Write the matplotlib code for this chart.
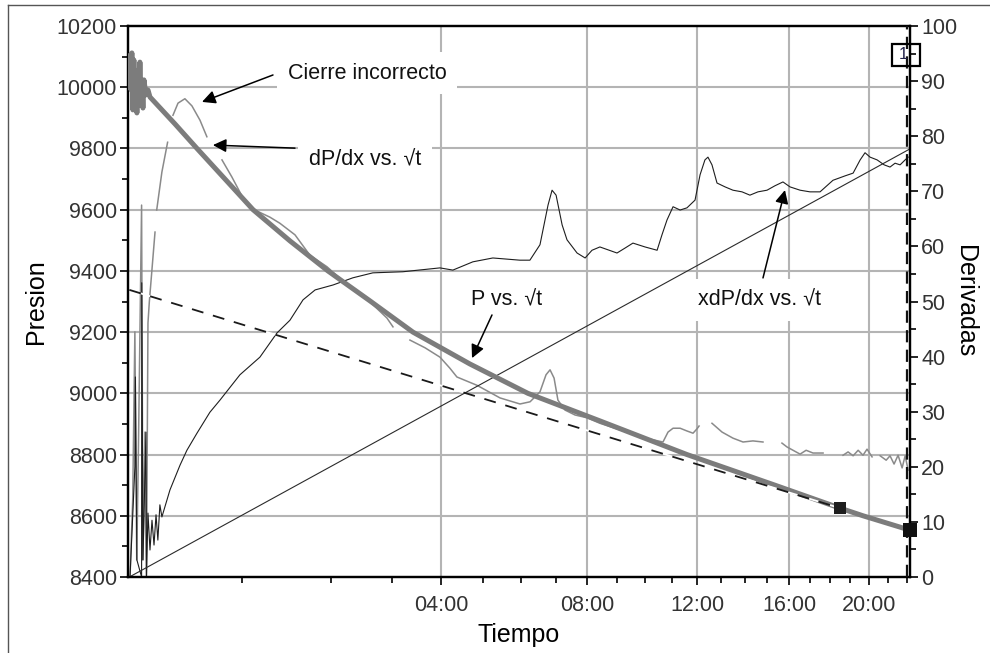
import numpy as np
import matplotlib
matplotlib.use("Agg")
import matplotlib.pyplot as plt
from matplotlib.lines import Line2D
from matplotlib.patches import Rectangle
from matplotlib.ticker import FixedLocator, MultipleLocator

plt.rcParams['font.family'] = ['Liberation Sans', 'DejaVu Sans']

nan = np.nan

# ---- time axis: x = sqrt(clock_hour - t0) ----
t0_hour = 0.55
major_hours = [4, 8, 12, 16, 20]
major_labels = ['04:00', '08:00', '12:00', '16:00', '20:00']
minor_hours = [1, 2, 3, 5, 6, 7, 9, 10, 11, 13, 14, 15, 17, 18, 19, 21, 22]
x_max = 4.652

# ---- Pressure vs sqrt(t) (thick gray) ----
p_x = [0.004, 0.010, 0.015, 0.021, 0.027, 0.033, 0.039, 0.045, 0.051, 0.057,
       0.063, 0.069, 0.075, 0.081, 0.087, 0.099, 0.111, 0.123,
       0.272, 0.403, 0.570, 0.737, 0.957, 1.183, 1.434, 1.690, 2.029, 2.375,
       2.804, 3.323, 3.847, 4.235, 4.372, 4.652]
p_val = [10105, 9991, 10112, 9926, 10089, 9958, 10040, 9916, 10056, 9942,
         10082, 9958, 10007, 9932, 10024, 9975, 9991, 9968,
         9880, 9800, 9700, 9600, 9498, 9400, 9302, 9200, 9096, 9000,
         8910, 8800, 8700, 8625, 8600, 8553]

# ---- straight-line fit P vs sqrt(t) (dashed) ----
fit_x = [0.0, 4.235]
fit_p = [9338, 8625]

# ---- square markers ----
mark1_x, mark1_p = 4.235, 8625
mark2_x, mark2_p = 4.652, 8553
vline_x = 4.632

# ---- dP/dx vs sqrt(t) (thin gray, right axis) ----
d_x = [0.004, 0.020, 0.033, 0.044, 0.054, 0.073, 0.081, 0.093, 0.102, 0.111, 0.119, 0.153, nan,
       0.163, 0.194, 0.228, nan,
       0.260, 0.290, 0.331, 0.373, 0.421, 0.462, nan,
       0.552, 0.611, 0.677, 0.748, 0.838, 0.897, 0.987, 1.076, 1.178, 1.284, 1.404, 1.535, 1.571, nan,
       1.672, 1.762, 1.851, 1.910, 1.952, 2.071, 2.209, 2.328, 2.388, 2.447, 2.483, 2.507, 2.531,
       2.554, 2.596, 2.656, 2.727, 2.804, 2.894, 2.966, 3.043, 3.121, 3.180, 3.210, 3.240, 3.282,
       3.323, 3.359, 3.383, 3.395, nan,
       3.472, 3.532, 3.597, 3.657, 3.716, 3.776, nan,
       3.889, 3.919, 3.955, 3.997, 4.033, 4.074, 4.134, nan,
       4.253, 4.283, 4.313, 4.343, 4.372, 4.396, 4.426, nan,
       4.474, 4.510, 4.533, 4.557, 4.581, 4.605, 4.623, 4.641]
d_val = [0.0, 14.0, 44.5, 3.1, 23.0, 67.5, 3.1, 26.3, 0.0, 46.1, 49.9, 62.6, nan,
         66.6, 73.5, 78.9, nan,
         83.8, 86.0, 86.8, 85.5, 82.9, 79.9, nan,
         75.7, 72.6, 68.8, 66.6, 65.3, 64.2, 62.1, 58.4, 56.3, 53.4, 50.8, 47.0, 45.4, nan,
         43.0, 41.6, 39.9, 37.9, 36.3, 34.8, 32.5, 31.4, 31.8, 33.6, 36.7, 37.6, 36.1,
         32.1, 30.3, 29.4, 28.9, 27.9, 27.0, 26.3, 25.4, 24.9, 24.5, 26.3, 27.0, 27.0,
         26.5, 26.1, 26.9, 27.4, nan,
         27.9, 26.3, 25.2, 24.5, 24.7, 24.5, nan,
         24.3, 23.6, 23.0, 22.3, 23.0, 22.5, 22.5, nan,
         22.1, 22.7, 22.0, 23.0, 22.1, 23.2, 21.8, nan,
         22.0, 21.2, 22.0, 20.5, 22.1, 19.8, 22.0, 19.4]

# ---- x dP/dx vs sqrt(t) (thin black, right axis) ----
xd_x = [0.004, 0.033, 0.036, 0.045, 0.073, 0.074, 0.081, 0.099, 0.102, 0.111,
        0.123, 0.135, 0.147, 0.159, 0.170, 0.182, 0.194,
        0.242, 0.302, 0.343, 0.403, 0.480, 0.540, 0.659, 0.778, 0.880, 0.957, 1.035, 1.107,
        1.214, 1.332, 1.451, 1.630, 1.851, 1.928, 2.047, 2.166, 2.327, 2.387, 2.447, 2.495,
        2.519, 2.543, 2.579, 2.608, 2.668, 2.716, 2.757, 2.804, 2.906, 2.954, 3.001, 3.073,
        3.145, 3.174, 3.204, 3.240, 3.282, 3.323, 3.371, 3.401, 3.430, 3.448, 3.472, 3.502,
        3.550, 3.597, 3.651, 3.698, 3.746, 3.800, 3.847, 3.895, 3.937, 3.997, 4.056, 4.116,
        4.193, 4.265, 4.313, 4.355, 4.384, 4.414, 4.456, 4.498, 4.533, 4.563, 4.593, 4.623, 4.641]
xd_val = [0.0, 20.0, 36.3, 3.1, 0.0, 53.4, 3.1, 26.3, 0.0, 11.6,
          4.9, 10.3, 5.8, 11.3, 6.7, 13.1, 10.9,
          15.8, 20.3, 23.0, 26.1, 29.9, 32.1, 36.7, 39.9, 44.3, 46.6, 50.3, 52.1,
          53.0, 54.3, 55.2, 55.4, 56.1, 55.7, 57.2, 57.9, 57.5, 57.5, 60.3, 67.5,
          70.2, 69.3, 63.9, 61.2, 58.8, 57.9, 59.3, 59.9, 58.8, 59.7, 60.6, 59.9,
          59.3, 62.1, 64.8, 67.2, 66.6, 67.0, 68.4, 73.0, 75.7, 76.2, 74.8, 71.5,
          70.8, 70.2, 69.9, 69.3, 69.9, 70.2, 71.0, 71.7, 70.8, 70.2, 69.9, 69.9,
          72.0, 72.8, 73.3, 75.7, 77.0, 76.2, 75.7, 74.8, 74.4, 75.1, 74.8, 75.7, 76.2]

# ---- straight reference line (right axis) ----
ref_x = [0.0, 4.652]
ref_val = [0.0, 77.7]

# ================= figure =================
fig = plt.figure(figsize=(9.9, 6.53), dpi=100)
ax1 = fig.add_axes([128/990, 1-577/653, (910-128)/990, (577-26)/653])
ax2 = ax1.twinx()

ax1.set_xlim(-0.008, x_max)
ax1.set_ylim(8400, 10200)
ax2.set_ylim(0, 100)

grid_c = '#b4b4b4'
for v in range(8600, 10200, 200):
    ax1.axhline(v, color=grid_c, lw=1.5, zorder=0)
for h in major_hours:
    ax1.axvline(np.sqrt(h - t0_hour), color=grid_c, lw=1.5, zorder=0)

ax1.xaxis.set_major_locator(FixedLocator([np.sqrt(h - t0_hour) for h in major_hours]))
ax1.set_xticklabels(major_labels)
ax1.xaxis.set_minor_locator(FixedLocator([np.sqrt(h - t0_hour) for h in minor_hours]))
ax1.yaxis.set_major_locator(MultipleLocator(200))
ax1.yaxis.set_minor_locator(MultipleLocator(100))
ax2.yaxis.set_major_locator(MultipleLocator(10))
ax2.yaxis.set_minor_locator(MultipleLocator(5))

tick_fs = 15.5
ax1.tick_params(axis='both', which='major', direction='out', length=6, width=1.2,
                labelsize=tick_fs, colors='black', pad=2)
ax1.tick_params(axis='x', which='major', pad=7)
ax1.tick_params(axis='both', which='minor', direction='out', length=4, width=1.2)
ax2.tick_params(axis='y', which='major', direction='out', length=6, width=1.2,
                labelsize=tick_fs, pad=2)
ax2.tick_params(axis='y', which='minor', direction='out', length=4, width=1.2)
for lab in ax1.get_yticklabels() + ax2.get_yticklabels() + ax1.get_xticklabels():
    lab.set_color('#333333')

for ax in (ax1, ax2):
    for s in ax.spines.values():
        s.set_linewidth(1.6)
        s.set_color('black')

ax1.set_ylabel('Presion', fontsize=18, labelpad=6)
ax2.set_ylabel('Derivadas', fontsize=18, rotation=270, labelpad=14)
ax1.set_xlabel('Tiempo', fontsize=18, labelpad=5)

# ---- data on top axes ----
T1 = ax1.transData
ax2.plot(d_x, d_val, color='#8a8a8a', lw=1.1, zorder=2)
ax2.plot(xd_x, xd_val, color='#1e1e1e', lw=0.8, zorder=2.1)
ax2.plot(ref_x, ref_val, color='#2a2a2a', lw=0.8, zorder=2.2)
ax2.plot(p_x, p_val, color='#7c7c7c', lw=3.6, zorder=3, transform=T1,
         solid_joinstyle='round', solid_capstyle='round')
ax2.plot(fit_x, fit_p, color='#1a1a1a', lw=1.3, ls=(0, (6.6, 5.5)), gapcolor='white',
         zorder=4, transform=T1)
ax2.plot([mark1_x], [mark1_p], marker='s', ms=9, color='#1e1e1e', mew=0, zorder=5,
         transform=T1)
ax2.plot([mark2_x], [mark2_p], marker='s', ms=9.5, color='#111111', mew=0, zorder=6,
         transform=T1, clip_on=False)
ax2.axvline(vline_x, color='#111111', lw=1.6, ls=(0, (5.5, 3.3)), zorder=4)

# label box "1"
ax2.add_patch(Rectangle(((892-128)/782, (577-66)/551), 28/782, 22/551,
                        transform=ax2.transAxes, fill=False, ec='black', lw=1.6,
                        clip_on=False, zorder=7))
ax2.text(vline_x - 0.022, 94.9, '1', fontsize=12, color='#22224a', ha='center', va='center',
         zorder=7)

ax2.set_xlim(-0.008, x_max)
ax2.set_ylim(0, 100)

# ---- annotations (P coordinates) ----
ann_fs = 15.5
box = dict(boxstyle='square,pad=0.5', fc='white', ec='none')
arrow = dict(arrowstyle='-|>', color='black', lw=1.1, mutation_scale=20, shrinkA=0, shrinkB=0)

notes = [
    ('Cierre incorrecto', (1.418, 10046), (0.856, 10040), (0.433, 9952)),
    ('dP/dx vs. \u221at', (1.404, 9762), (0.987, 9801), (0.498, 9811)),
    ('P vs. \u221at', (2.250, 9305), (2.161, 9256), (2.042, 9115)),
    ('xdP/dx vs. \u221at', (3.758, 9305), (3.776, 9377), (3.907, 9664)),
]
for txt, tpos, tail, head in notes:
    ax1.text(tpos[0], tpos[1], txt, fontsize=ann_fs, ha='center', va='center',
             bbox=box, zorder=1, color='#111111')
    ax2.annotate('', xy=head, xytext=tail, xycoords=T1, textcoords=T1,
                 arrowprops=arrow, zorder=8)

# ---- outer frame of the picture ----
fig.add_artist(Line2D([8/990, 1], [1-5/653, 1-5/653], color='#555555', lw=1.0))
fig.add_artist(Line2D([8/990, 8/990], [0, 1-5/653], color='#555555', lw=1.0))

fig.savefig('out.png', dpi=100)
